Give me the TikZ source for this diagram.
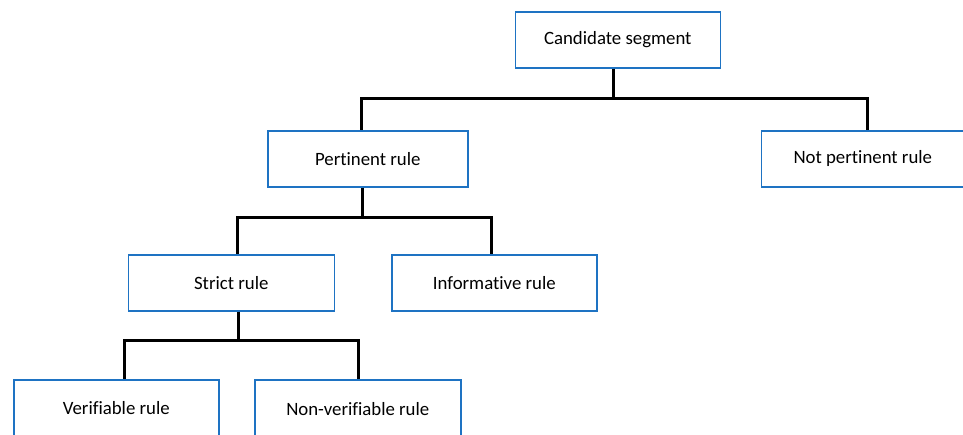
\documentclass[tikz,border=0pt]{standalone}
\usepackage{fontspec}
\setmainfont[Ligatures=NoCommon]{Carlito}
\definecolor{boxblue}{RGB}{30,115,195}
\begin{document}
\begin{tikzpicture}[x=1pt,y=-1pt,
  box/.style={draw=boxblue,line width=1.6pt,fill=white,minimum width=205pt,minimum height=56pt,inner sep=0pt,anchor=north west,font=\fontsize{18.8}{22}\selectfont},
  conn/.style={draw=black,line width=3pt}]
\useasboundingbox (0,0) rectangle (963,434);
\clip (0,0) rectangle (963,434);
\node[box] (cand) at (514.5,11) {\raisebox{-1pt}{Candidate segment}};
\node[box,minimum width=200pt] (pert) at (267,130) {Pertinent rule};
\node[box,minimum width=203pt] (notp) at (760.5,130) {Not pertinent rule};
\node[box,minimum width=206pt] (strict) at (127.5,254) {Strict rule};
\node[box,minimum width=205pt] (info) at (391,254) {Informative rule};
\node[box,minimum width=205pt,minimum height=58pt] (ver) at (13,379) {\raisebox{1.5pt}{Verifiable rule}};
\node[box,minimum width=206pt,minimum height=58pt] (nonver) at (254,379) {Non-verifiable rule};
\coordinate (j1) at (613,98);
\coordinate (j2) at (362,217);
\coordinate (j3) at (238,340);
\draw[conn] (cand.south -| j1) -- (j1);
\draw[conn] (j1) -| ([xshift=-0.5pt]pert.north -| j2);
\draw[conn] (j1) -| (notp.north -| 867,0);
\draw[conn] (pert.south -| j2) -- (j2);
\draw[conn] (j2) -| (strict.north -| 237,0);
\draw[conn] (j2) -| (info.north -| 491,0);
\draw[conn] (strict.south -| j3) -- (j3);
\draw[conn] (j3) -| (ver.north -| 124,0);
\draw[conn] (j3) -| (nonver.north -| 358,0);
\end{tikzpicture}
\end{document}
